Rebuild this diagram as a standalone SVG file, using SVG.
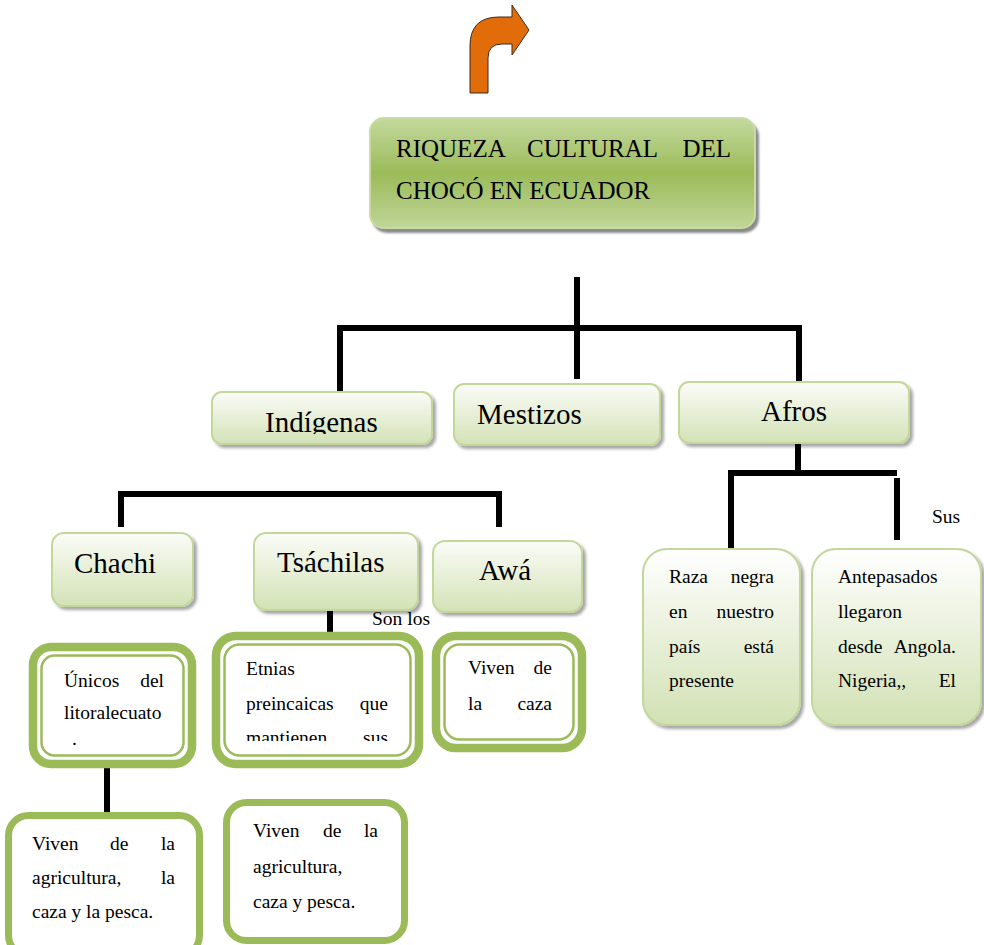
<svg xmlns="http://www.w3.org/2000/svg" width="984" height="945" viewBox="0 0 984 945">
<style>
.t{font-family:"Liberation Serif","Times New Roman",serif;fill:#000}
.big{font-size:29px}
.ttl{font-size:25px}
.sm{font-size:19.5px}
.lbl{fill:url(#lg);stroke:#c3d69b;stroke-width:2;filter:url(#sh)}
.card{fill:url(#cg);stroke:#c3d69b;stroke-width:2;filter:url(#sh)}
.dbl-o{fill:#fff;stroke:#9bbb59;stroke-width:8.5}
.dbl-i{fill:none;stroke:#9bbb59;stroke-width:2.5}
.plain{fill:#fff;stroke:#9bbb59;stroke-width:7}
.ln{stroke:#000;stroke-width:6;fill:none}
</style>
<defs>
<linearGradient id="tg" x1="0" y1="0" x2="0" y2="1">
<stop offset="0" stop-color="#c4d99e"/>
<stop offset="0.5" stop-color="#9bbb59"/>
<stop offset="1" stop-color="#c0d598"/>
</linearGradient>
<linearGradient id="lg" x1="0" y1="0" x2="0" y2="1">
<stop offset="0" stop-color="#fbfcf8"/>
<stop offset="1" stop-color="#d3e2b6"/>
</linearGradient>
<linearGradient id="cg" x1="0" y1="0" x2="0" y2="1">
<stop offset="0" stop-color="#ffffff"/>
<stop offset="1" stop-color="#d2e1b4"/>
</linearGradient>
<filter id="sh" x="-10%" y="-10%" width="125%" height="130%">
<feDropShadow dx="3" dy="3" stdDeviation="1.5" flood-color="#000" flood-opacity="0.35"/>
</filter>
<filter id="sh2" x="-10%" y="-10%" width="125%" height="130%">
<feDropShadow dx="3" dy="4" stdDeviation="1.2" flood-color="#3a3a3a" flood-opacity="0.6"/>
</filter>
<clipPath id="c-ind"><rect x="212" y="392" width="220" height="42"/></clipPath>
<clipPath id="c-etn"><rect x="212" y="632" width="210" height="109"/></clipPath>
</defs>

<g id="arrow">
<path d="M470,93 L470,46 Q470,17 499,17 L512,17 L512,5 L529,30 L512,55 L512,44 L502,44 Q488,44 488,58 L488,93 Z" fill="#e36c0a" stroke="#3a2a1a" stroke-width="1"/>
</g>

<g id="connectors">
<line class="ln" x1="577" y1="277" x2="577" y2="379"/>
<path class="ln" d="M340,391 V328 H799 V383"/>
<path class="ln" d="M121,527 V494 H499 V527"/>
<line class="ln" x1="798" y1="443" x2="798" y2="473"/>
<path class="ln" d="M731,548 V473 H897"/>
<line class="ln" x1="897" y1="478" x2="897" y2="540"/>
<line class="ln" x1="330" y1="610" x2="330" y2="632"/>
<line class="ln" x1="107" y1="768" x2="107" y2="813"/>
</g>

<g id="title">
<rect x="370" y="118" width="385" height="110" rx="14" fill="url(#tg)" stroke="#c7dba2" stroke-width="2" filter="url(#sh2)"/>
<text class="t ttl" y="157"><tspan x="396">RIQUEZA</tspan><tspan x="527">CULTURAL</tspan><tspan x="731" text-anchor="end">DEL</tspan></text>
<text class="t ttl" x="396" y="199">CHOCÓ EN ECUADOR</text>
</g>

<g id="indigenas">
<rect class="lbl" x="212" y="392" width="220" height="52" rx="10"/>
<text class="t big" x="265" y="432" clip-path="url(#c-ind)">Indígenas</text>
</g>
<g id="mestizos">
<rect class="lbl" x="454" y="384" width="206" height="61" rx="10"/>
<text class="t big" x="477" y="424">Mestizos</text>
</g>
<g id="afros">
<rect class="lbl" x="679" y="382" width="230" height="61" rx="10"/>
<text class="t big" x="794" y="421" text-anchor="middle">Afros</text>
</g>

<g id="chachi">
<rect class="lbl" x="52" y="533" width="141" height="73" rx="12"/>
<text class="t big" x="74" y="573">Chachi</text>
</g>
<g id="tsachilas">
<rect class="lbl" x="254" y="533" width="164" height="77" rx="12"/>
<text class="t big" x="277" y="572">Tsáchilas</text>
</g>
<g id="awa">
<rect class="lbl" x="433" y="541" width="149" height="71" rx="12"/>
<text class="t big" x="479" y="580">Awá</text>
</g>

<text class="t sm" x="372" y="625">Son los</text>
<text class="t sm" x="932" y="523">Sus</text>

<g id="unicos">
<rect class="dbl-o" x="33" y="647" width="159" height="117" rx="18"/>
<rect class="dbl-i" x="41.5" y="655.5" width="142" height="100" rx="13"/>
<text class="t sm" y="687"><tspan x="64">Únicos</tspan><tspan x="164" text-anchor="end">del</tspan></text>
<text class="t sm" x="64" y="719">litoralecuato</text>
<text class="t sm" x="72" y="745">.</text>
</g>

<g id="etnias">
<rect class="dbl-o" x="216" y="636" width="203" height="128" rx="20"/>
<rect class="dbl-i" x="224.5" y="644.5" width="186" height="111" rx="15"/>
<g clip-path="url(#c-etn)">
<text class="t sm" x="246" y="675">Etnias</text>
<text class="t sm" y="710"><tspan x="246">preincaicas</tspan><tspan x="388" text-anchor="end">que</tspan></text>
<text class="t sm" y="744"><tspan x="246">mantienen</tspan><tspan x="388" text-anchor="end">sus</tspan></text>
</g>
</g>

<g id="awa-desc">
<rect class="dbl-o" x="436" y="636" width="146" height="112" rx="20"/>
<rect class="dbl-i" x="444.5" y="644.5" width="129" height="95" rx="15"/>
<text class="t sm" y="674"><tspan x="468">Viven</tspan><tspan x="552" text-anchor="end">de</tspan></text>
<text class="t sm" y="710"><tspan x="468">la</tspan><tspan x="552" text-anchor="end">caza</tspan></text>
</g>

<g id="chachi-vive">
<rect class="plain" x="8.5" y="815.5" width="191" height="140" rx="20"/>
<text class="t sm" y="850"><tspan x="32">Viven</tspan><tspan x="110">de</tspan><tspan x="175" text-anchor="end">la</tspan></text>
<text class="t sm" y="884"><tspan x="32">agricultura,</tspan><tspan x="175" text-anchor="end">la</tspan></text>
<text class="t sm" x="32" y="918">caza y la pesca.</text>
</g>

<g id="tsachilas-vive">
<rect class="plain" x="226.5" y="802.5" width="178" height="138" rx="20"/>
<text class="t sm" y="837"><tspan x="253">Viven</tspan><tspan x="323">de</tspan><tspan x="378" text-anchor="end">la</tspan></text>
<text class="t sm" x="253" y="873">agricultura,</text>
<text class="t sm" x="253" y="908">caza y pesca.</text>
</g>

<g id="raza">
<rect class="card" x="643" y="549" width="157" height="176" rx="24"/>
<text class="t sm" y="583"><tspan x="669">Raza</tspan><tspan x="774" text-anchor="end">negra</tspan></text>
<text class="t sm" y="618"><tspan x="669">en</tspan><tspan x="774" text-anchor="end">nuestro</tspan></text>
<text class="t sm" y="653"><tspan x="669">país</tspan><tspan x="774" text-anchor="end">está</tspan></text>
<text class="t sm" x="669" y="687">presente</text>
</g>

<g id="antepasados">
<rect class="card" x="812" y="549" width="169" height="176" rx="24"/>
<text class="t sm" x="838" y="583">Antepasados</text>
<text class="t sm" x="838" y="618">llegaron</text>
<text class="t sm" y="653"><tspan x="838">desde</tspan><tspan x="956" text-anchor="end">Angola.</tspan></text>
<text class="t sm" y="687"><tspan x="838">Nigeria,,</tspan><tspan x="956" text-anchor="end">El</tspan></text>
</g>
</svg>
